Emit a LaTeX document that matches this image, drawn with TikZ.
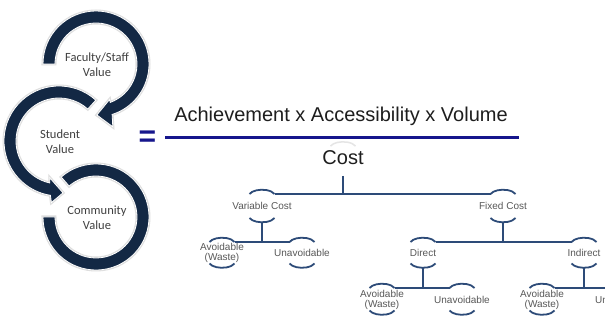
\documentclass[tikz,border=0pt]{standalone}
\usepackage{fontspec}
\setmainfont{Liberation Sans}
\newfontfamily\carlito{Carlito}
\definecolor{ringblue}{RGB}{19,40,68}
\definecolor{fracblue}{RGB}{22,22,140}
\definecolor{treeblue}{RGB}{45,75,120}
\definecolor{tgray}{RGB}{88,88,88}
\definecolor{rgray}{RGB}{64,64,64}
\definecolor{formula}{RGB}{30,30,30}
\tikzset{
  ring/.style={fill=ringblue, draw=white, line width=0.8pt, line join=miter,
    preaction={draw=black!13, line width=3pt}},
  ringtxt/.style={align=center, text=rgray, font=\carlito\fontsize{12.5}{15}\selectfont, inner sep=0pt},
  tlbl/.style={align=center, text=tgray, font=\fontsize{10}{10.5}\selectfont, inner sep=0pt},
  tline/.style={draw=treeblue, line width=1.8pt},
}
\newcommand{\tnode}[6]{%
  \node[tlbl] (#1) at (#2,-#3) {#4};
  \coordinate (#1-tl) at ([shift={(-12.5,#5)}]#1.center);
  \coordinate (#1-tr) at ([shift={(12.5,#5)}]#1.center);
  \coordinate (#1-bl) at ([shift={(-12.5,-#6)}]#1.center);
  \coordinate (#1-bb) at ([shift={(0,-#6-4.3)}]#1.center);
  \draw[tline] (#1-tl) arc[start angle=160,end angle=20,x radius=13.3,y radius=6.5];
  \draw[tline] (#1-bl) arc[start angle=200,end angle=340,x radius=13.3,y radius=6.5];
}
\begin{document}
\begin{tikzpicture}[x=1pt,y=1pt]
\useasboundingbox (0,0) rectangle (605,-320);
\fill[white] (0,0) rectangle (605,-320);
\clip (0,0) rectangle (605,-320);
% ring centres
\coordinate (T) at (96,-64);
\coordinate (M) at (59,-141);
\coordinate (B) at (96,-217);
% bottom ring
\path[ring] ([shift={(B)}]131:53) arc[start angle=131,end angle=-180,radius=53]
  -- ([shift={(B)}]180:41) arc[start angle=-180,end angle=131,radius=41] -- cycle;
% middle ring
\path[ring] ([shift={(M)}]48:55) arc[start angle=48,end angle=261,radius=55]
  -- ([shift={(M)}]263:62) -- ([shift={(M)}]274.4:52) -- ([shift={(M)}]256:38)
  -- ([shift={(M)}]257.5:43) arc[start angle=257.5,end angle=48,radius=43] -- cycle;
% top ring
\path[ring] ([shift={(T)}]180:53) arc[start angle=180,end angle=-72.3,radius=53]
  -- ([shift={(T)}]-75:65) -- ([shift={(T)}]-89:51) -- ([shift={(T)}]-69:38)
  -- ([shift={(T)}]-69.7:41) arc[start angle=-69.7,end angle=180,radius=41] -- cycle;
% ring texts
\node[ringtxt] (fac) at (97,-65) {Faculty/Staff\\Value};
\node[ringtxt] (stu) at (60,-142) {Student\\Value};
\node[ringtxt] (com) at (97,-218) {Community\\Value};
% formula
\node[text=fracblue, font=\fontsize{30}{30}\selectfont\bfseries, inner sep=0pt] (eq) at (147.5,-138.5) {=};
\node[anchor=base, text=formula, font=\fontsize{20}{24}\selectfont, inner sep=0pt] (num) at (341,-122) {Achievement x Accessibility x Volume};
\coordinate (fl) at (165,-137.5);
\coordinate (fr) at (519,-137.5);
\draw[fracblue, line width=3pt] (fl) -- (fr);
\node[anchor=base, text=formula, font=\fontsize{20}{24}\selectfont, inner sep=0pt] (cost) at (343,-165) {Cost};
\draw[black!10, line width=1.5pt] ([shift={(-12.5,12)}]cost.center) arc[start angle=160,end angle=20,x radius=13.3,y radius=6.5];
\coordinate (cstem) at (343,-176);
% tree nodes
\tnode{vc}{262}{206}{Variable Cost}{12}{12}
\tnode{fc}{503}{206}{Fixed Cost}{12}{12}
\tnode{av1}{222}{253}{Avoidable\\(Waste)}{11}{10.5}
\tnode{un1}{302}{253}{Unavoidable}{11}{10.5}
\tnode{dir}{423}{253}{Direct}{11}{10.5}
\tnode{ind}{584}{253}{Indirect}{11}{10.5}
\tnode{av2}{382}{300}{Avoidable\\(Waste)}{12}{10.5}
\tnode{un2}{462}{300}{Unavoidable}{12}{10.5}
\tnode{av3}{542}{300}{Avoidable\\(Waste)}{12}{10.5}
\tnode{un3}{623}{300}{Unavoidable}{12}{10.5}
% connectors
\draw[tline] (cstem) -- (cstem |- vc-tr);
\draw[tline] (vc-tr) -- (fc-tl);
\draw[tline] (vc-bb) -- (vc-bb |- av1-tr);
\draw[tline] (av1-tr) -- (un1-tl);
\draw[tline] (fc-bb) -- (fc-bb |- dir-tr);
\draw[tline] (dir-tr) -- (ind-tl);
\draw[tline] (dir-bb) -- (dir-bb |- av2-tr);
\draw[tline] (av2-tr) -- (un2-tl);
\draw[tline] (ind-bb) -- (ind-bb |- av3-tr);
\draw[tline] (av3-tr) -- (un3-tl);
\end{tikzpicture}
\end{document}
